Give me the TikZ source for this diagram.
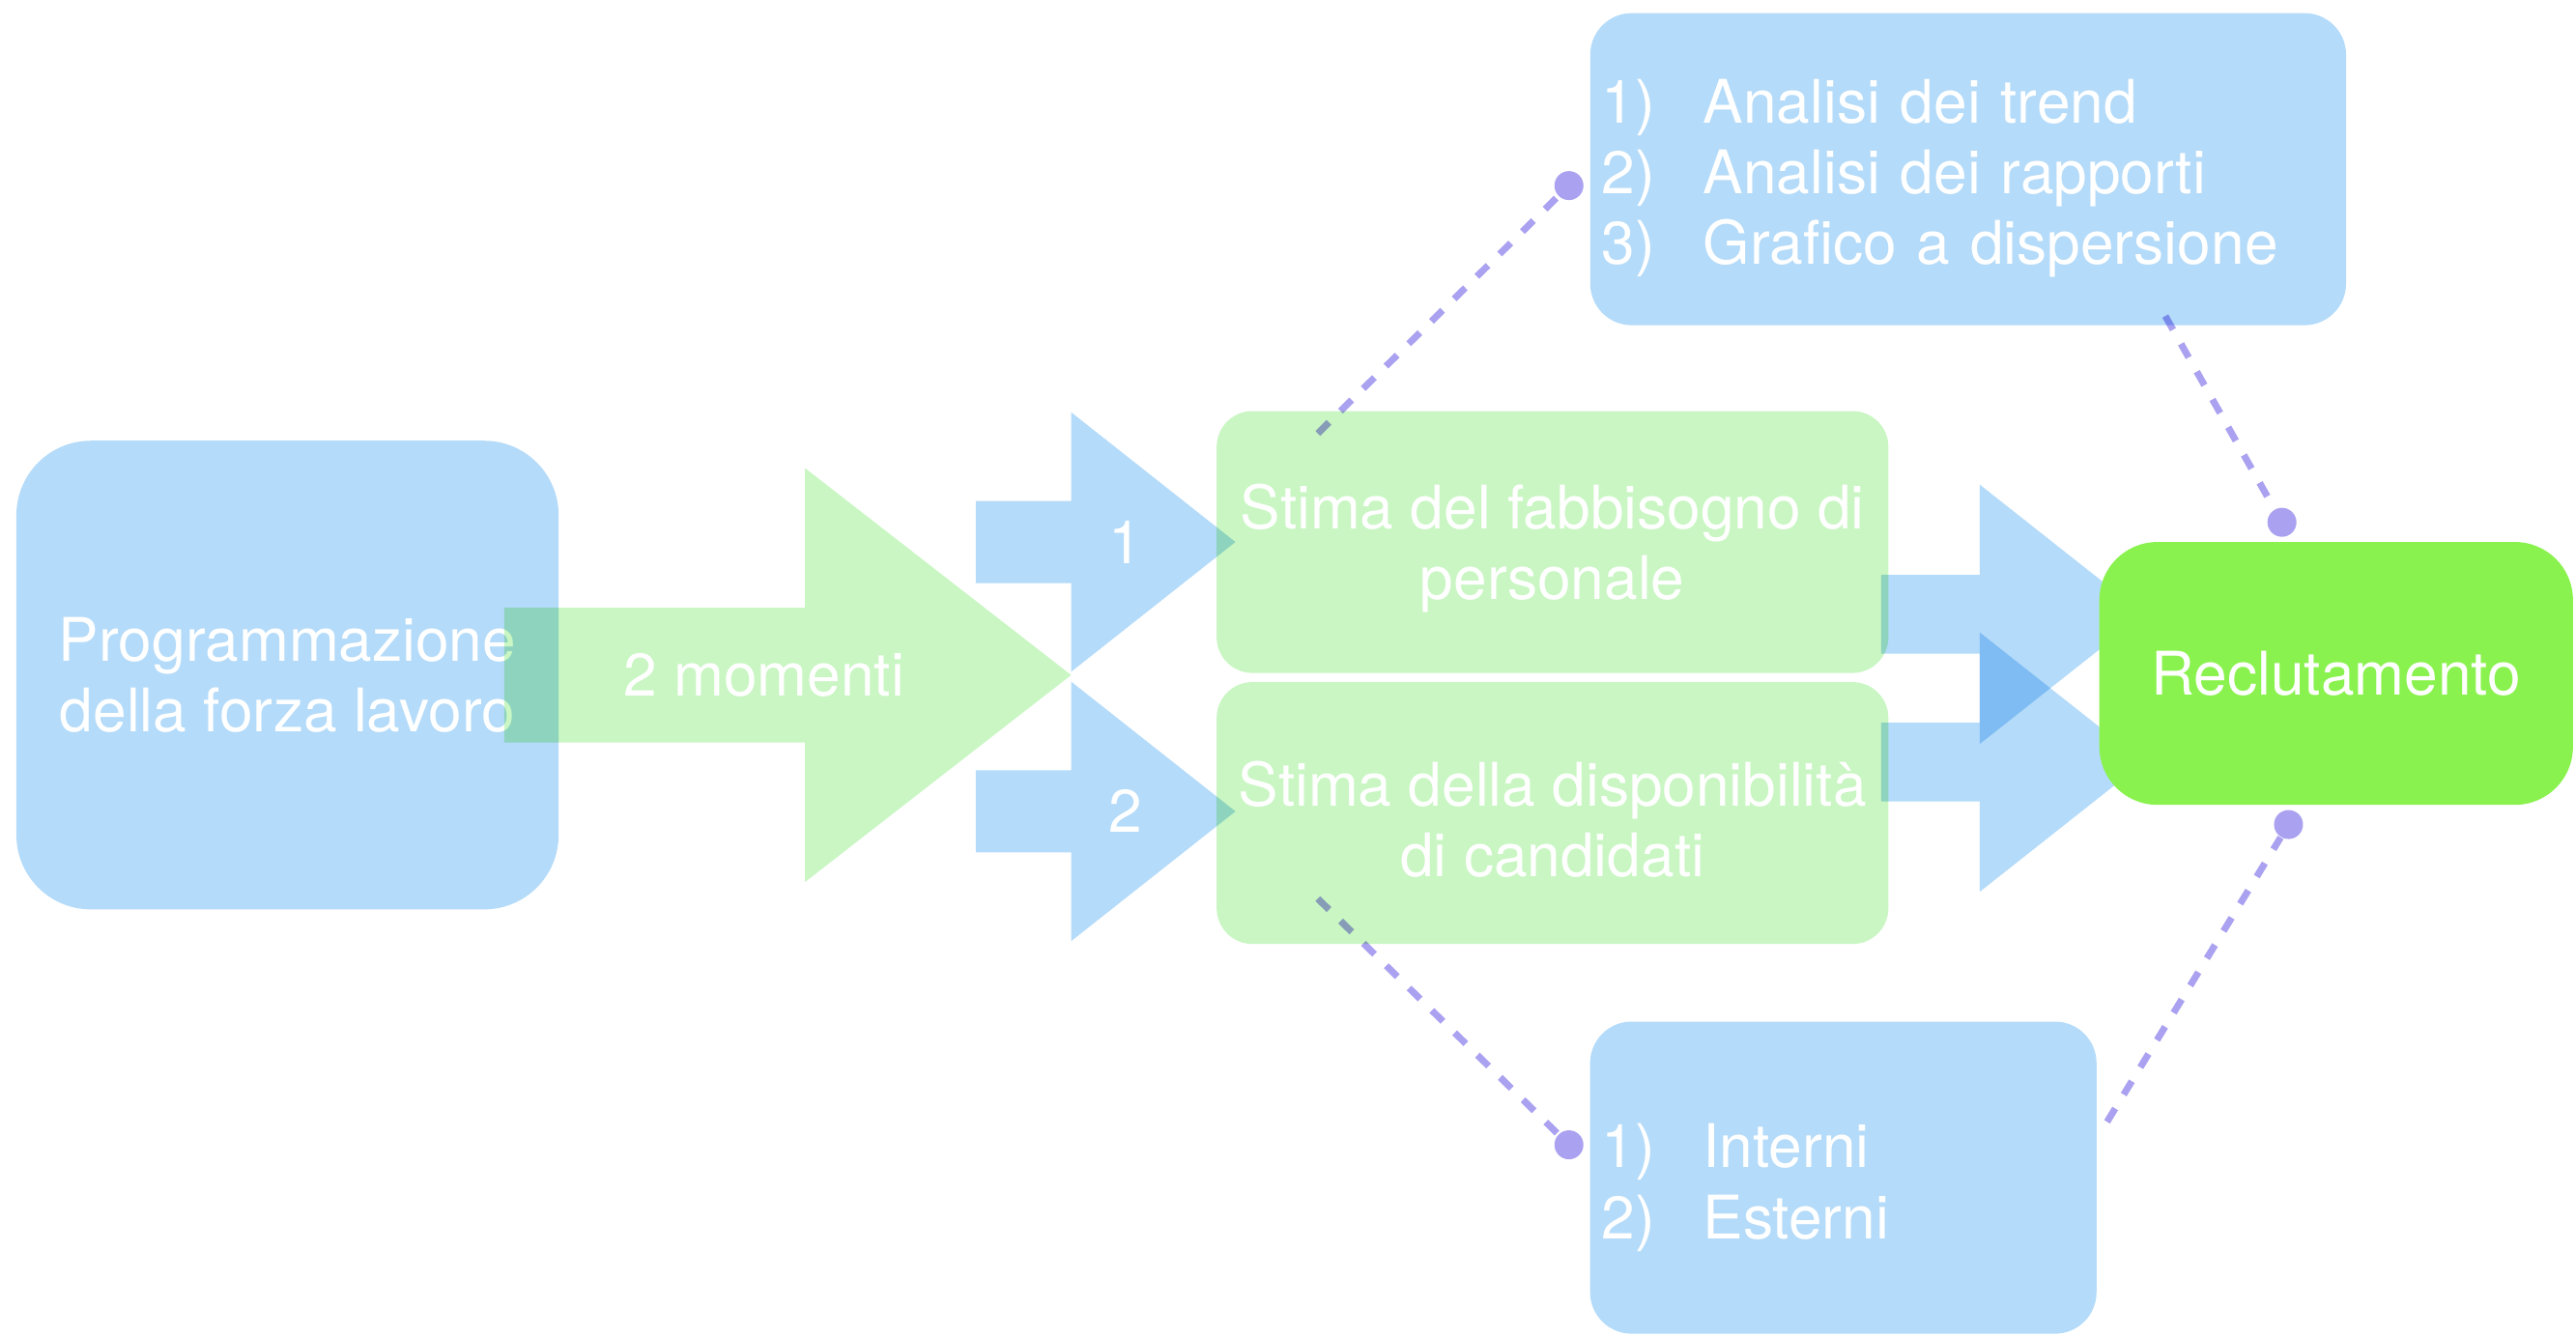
\documentclass[tikz,border=0pt]{standalone}
\usepackage{fontspec}
\setmainfont{TeX Gyre Heros}
\usetikzlibrary{calc}

\definecolor{paleblue}{RGB}{180,219,249}
\definecolor{palegreen}{RGB}{201,246,195}
\definecolor{limegreen}{RGB}{138,242,78}
\definecolor{lavender}{RGB}{170,162,240}
\newcommand{\boxfont}{\fontsize{17.7}{20.8}\selectfont}
% taller first line pushes a centred block of text a little down
\newcommand{\toproom}[1]{\rule{0pt}{#1}}

\begin{document}
\begin{tikzpicture}[x=0.017cm, y=-0.017cm,
    box/.style={rectangle, inner sep=0pt, text=white, font=\boxfont, align=center},
    bluebox/.style={box, fill=paleblue},
    greenbox/.style={box, fill=palegreen, rounded corners=0.37cm, minimum width=6.95cm, minimum height=2.71cm},
    listbox/.style={bluebox, rounded corners=0.43cm, minimum height=3.23cm, inner xsep=0.12cm, align=left},
    bluearrow/.style={fill=paleblue},
    greenarrow/.style={fill=palegreen},
    tag/.style={text=white, font=\boxfont},
    pin/.style={circle, fill=lavender, inner sep=0pt, minimum size=0.3cm},
    link/.style={draw=lavender, line width=2pt, dash pattern=on 4.6pt off 4.8pt}
  ]
  \useasboundingbox (0,0) rectangle (1568,813);

  % boxes
  \node[bluebox, rounded corners=0.77cm, minimum width=5.61cm, minimum height=4.85cm] (prog) at (175,411) {Programmazione\\della forza lavoro};
  \node[greenbox] (need) at (945,330) {\toproom{17pt}Stima del fabbisogno di\\personale};
  \node[greenbox] (avail) at (945,495) {\toproom{17pt}Stima della disponibilità\\di candidati};
  \node[listbox, minimum width=7.82cm, text width=7.58cm] (tech) at (1198,103)
    {\toproom{18.3pt}\makebox[1.05cm][l]{1)}Analisi dei trend\\\makebox[1.05cm][l]{2)}Analisi dei rapporti\\\makebox[1.05cm][l]{3)}Grafico a dispersione};
  \node[listbox, minimum width=5.24cm, text width=5cm] (src) at (1122,717)
    {\toproom{18.8pt}\makebox[1.05cm][l]{1)}Interni\\\makebox[1.05cm][l]{2)}Esterni};

  % pins and link ends
  \node[pin] (p1) at (955,113) {};
  \node[pin] (p2) at (1389,318) {};
  \node[pin] (p3) at (955,697) {};
  \node[pin] (p4) at (1393,502) {};
  \coordinate (s1) at ($(need.north west)+(62,14)$);
  \coordinate (s2) at ($(tech.south)+(120,-6)$);
  \coordinate (s3) at ($(avail.south west)+(62,-28)$);
  \coordinate (s4) at ($(src.east)+(6,-34)$);

  \begin{scope}[blend mode=multiply]
    % big arrow
    \fill[greenarrow] (307,370) -- (490,370) -- (490,285) -- (652,411) -- (490,537) -- (490,452) -- (307,452) -- cycle;
    % two steps
    \foreach \c in {330,494}
      \fill[bluearrow] (594,{\c-25}) -- (652,{\c-25}) -- (652,{\c-79}) -- (752,\c) -- (652,{\c+79}) -- (652,{\c+25}) -- (594,{\c+25}) -- cycle;
    % into recruiting
    \foreach \c in {374,464}
      \fill[bluearrow] (1145,{\c-24}) -- (1205,{\c-24}) -- (1205,{\c-79}) -- (1305,\c) -- (1205,{\c+79}) -- (1205,{\c+24}) -- (1145,{\c+24}) -- cycle;
    % dashed links
    \draw[link] (s1) -- (p1);
    \draw[link] (s2) -- (p2);
    \draw[link] (s3) -- (p3);
    \draw[link] (s4) -- (p4);
  \end{scope}

  \node[tag] (moments) at (465,411) {2 momenti};
  \node[tag] (one) at (685,330) {1};
  \node[tag] (two) at (685,494) {2};

  \node[box, fill=limegreen, rounded corners=0.6cm, minimum width=4.9cm, minimum height=2.72cm] (recl) at (1422,410) {Reclutamento};
\end{tikzpicture}
\end{document}
